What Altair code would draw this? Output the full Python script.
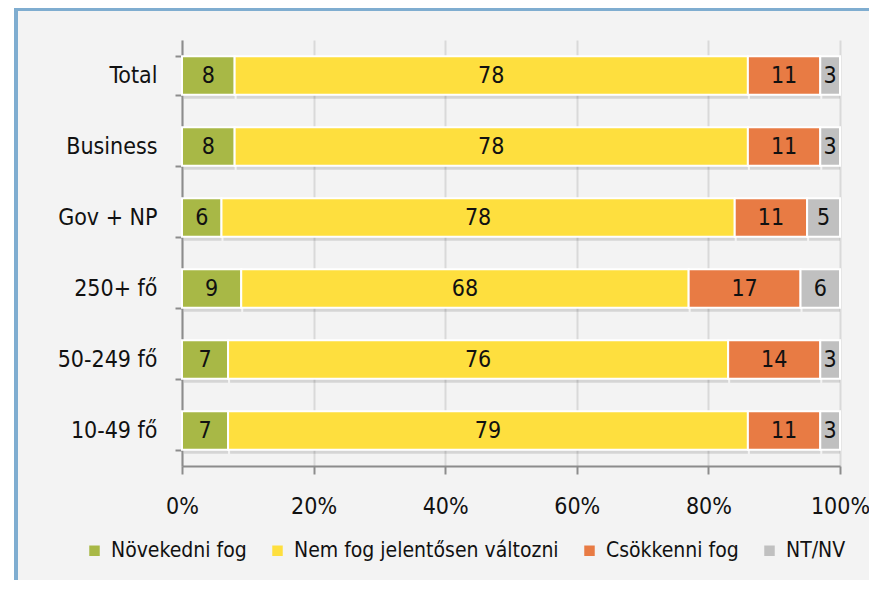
import altair as alt
import pandas as pd

groups = ["Total", "Business", "Gov + NP", "250+ fő", "50-249 fő", "10-49 fő"]
categories = ["Növekedni fog", "Nem fog jelentősen változni", "Csökkenni fog", "NT/NV"]
colors = ["#a8b846", "#fedf3e", "#e87b44", "#c0c0c0"]
novekedni = [8, 8, 6, 9, 7, 7]
nem_fog = [78, 78, 78, 68, 76, 79]
csokkenni = [11, 11, 11, 17, 14, 11]
nt_nv = [3, 3, 5, 6, 3, 3]
x_ticks = [0, 20, 40, 60, 80, 100]

FONT = "'Liberation Sans Narrow', 'DejaVu Sans Condensed', Roboto, sans-serif"

rows = []
for i, g in enumerate(groups):
    for j, (cat, vals) in enumerate(zip(categories, [novekedni, nem_fog, csokkenni, nt_nv])):
        rows.append({"group": g, "cat": cat, "order": j, "value": vals[i]})
df = pd.DataFrame(rows)

base = alt.Chart(df).transform_stack(
    stack="value", groupby=["group"], as_=["x0", "x1"], sort=[alt.SortField("order")]
).transform_calculate(mid="(datum.x0 + datum.x1) / 2")

yenc = alt.Y(
    "group:N", sort=groups, title=None,
    scale=alt.Scale(paddingInner=0.46, paddingOuter=0.23),
    axis=alt.Axis(tickBand="extent", domainColor="#8c8c8c", tickColor="#8c8c8c",
                  tickSize=7, tickWidth=2, domainWidth=2, labelPadding=18,
                  labelFontSize=23, labelFont=FONT, labelColor="#111111", grid=False),
)
xscale = alt.Scale(domain=[0, 100], nice=False)
xenc = alt.X(
    "x0:Q", scale=xscale, title=None,
    axis=alt.Axis(values=x_ticks, labelExpr="datum.value + '%'", grid=True,
                  gridColor="#d9d9d9", gridWidth=2, domainColor="#8c8c8c",
                  tickColor="#8c8c8c", tickSize=8, tickWidth=2, domainWidth=2,
                  labelPadding=21, labelFontSize=23, labelFont=FONT,
                  labelColor="#111111", labelFlush=False),
)

top_border = alt.Chart(alt.Data(values=[{}])).mark_rule(
    color="#7fadd0", strokeWidth=4
).encode(x=alt.value(-168), x2=alt.value(720), y=alt.value(-31))
left_border = alt.Chart(alt.Data(values=[{}])).mark_rule(
    color="#7fadd0", strokeWidth=4
).encode(x=alt.value(-166), y=alt.value(-33), y2=alt.value(600))
white_strip = alt.Chart(alt.Data(values=[{}])).mark_rect(
    color="white"
).encode(x=alt.value(-180), x2=alt.value(-168), y=alt.value(-40), y2=alt.value(600))

shadow = base.mark_bar(color="#000000", opacity=0.12, yOffset=4, xOffset=2).encode(
    x=xenc, x2="x1:Q", y=yenc
)

bars = base.mark_bar(stroke="white", strokeWidth=2).encode(
    x=xenc, x2="x1:Q", y=yenc,
    color=alt.Color(
        "cat:N", scale=alt.Scale(domain=categories, range=colors),
        legend=alt.Legend(orient="none", direction="horizontal", legendX=-98, legendY=500,
                          title=None, symbolType="square", symbolSize=110,
                          symbolStrokeWidth=0, labelFontSize=21, labelFont=FONT,
                          labelColor="#111111", columnPadding=20, labelOffset=6,
                          labelLimit=0),
    ),
)

text = base.mark_text(fontSize=23, font=FONT, color="#111111").encode(
    x=alt.X("mid:Q", scale=xscale), y=yenc, text="value:Q"
)

chart = alt.layer(white_strip, top_border, left_border, shadow, bars, text).properties(
    width=658, height=426,
    autosize=alt.AutoSizeParams(type="none"),
    padding={"left": 174, "top": 32, "right": 29, "bottom": 114},
).configure(background="#f3f3f3").configure_view(stroke=None)

chart.save("out.html", embed_options={"renderer": "svg", "actions": False})
